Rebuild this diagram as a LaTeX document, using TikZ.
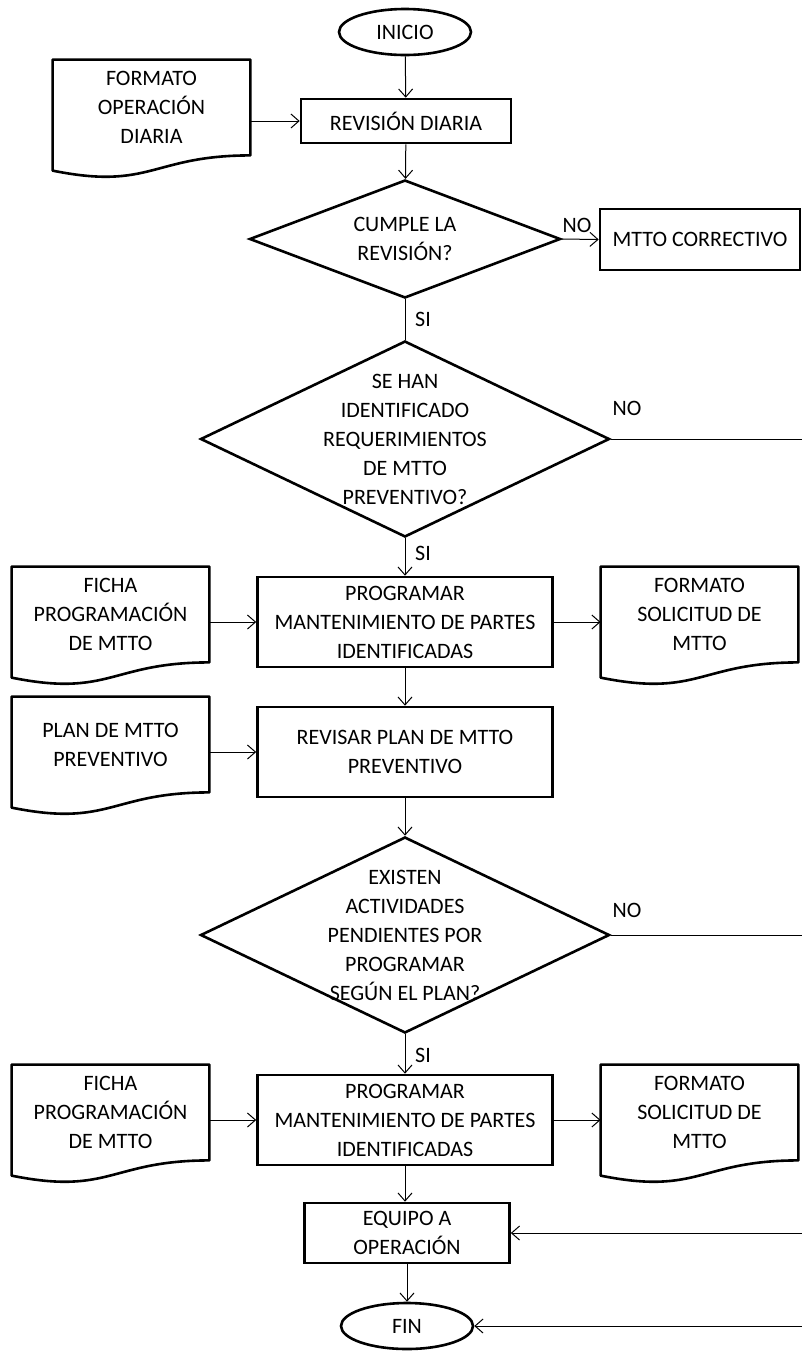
\documentclass[tikz,border=0pt]{standalone}
\usepackage{fontspec}
\setmainfont{Carlito}
\usetikzlibrary{shapes.geometric,arrows.meta}

\tikzset{
    caja/.style={draw, rectangle, line width=1.3pt, align=center, inner sep=0pt},
    terminal/.style={draw, ellipse, line width=1.3pt, minimum width=66pt, minimum height=23pt, inner sep=0pt},
    decision/.style={draw, diamond, line width=1.3pt, inner sep=0pt},
    docu/.style={rectangle, minimum width=98.5pt, minimum height=47.5pt, align=center, inner sep=0pt},
    borde/.style={line width=1.3pt, line join=round},
    flecha/.style={-{Straight Barb[length=4pt,width=7pt]}, line width=0.5pt},
    linea/.style={line width=0.5pt},
    texto/.style={align=center, inner sep=0pt},
    etiq/.style={inner sep=0pt},
}

\begin{document}
\begin{tikzpicture}[x=0.5pt, y=-0.5pt, font=\fontsize{11}{14.5}\selectfont]

    \useasboundingbox (0,0) rectangle (802,1351);
    \coordinate (margen) at (802,0);

    \node[terminal] (inicio) at (405,32) {INICIO};

    \node[docu] (formato) at (151.5,107.5)
        {FORMATO\\OPERACIÓN\\DIARIA};

    \node[caja, minimum width=105pt, minimum height=22pt] (revision) at (406,121)
        {REVISIÓN DIARIA};

    \node[decision, minimum width=155.5pt, minimum height=59pt,
          label={[texto]center:CUMPLE LA\\REVISIÓN?}] (cumple) at (405,239) {};

    \node[caja, minimum width=100pt, minimum height=30.5pt] (correctivo) at (700,239.5)
        {MTTO CORRECTIVO};

    \node[decision, minimum width=204.5pt, minimum height=98pt,
          label={[texto]center:SE HAN\\IDENTIFICADO\\REQUERIMIENTOS\\DE MTTO\\PREVENTIVO?}] (requiere) at (405,439) {};

    % programar (primera vez)
    \node[docu] (ficha1) at (110.5,614.5)
        {FICHA\\PROGRAMACIÓN\\DE MTTO};

    \node[caja, minimum width=147.5pt, minimum height=45pt] (programar1) at (405,622)
        {PROGRAMAR\\MANTENIMIENTO DE PARTES\\IDENTIFICADAS};

    \node[docu] (solicitud1) at (699.5,614.5)
        {FORMATO\\SOLICITUD DE\\MTTO};

    \node[docu] (plan) at (110.5,744.5)
        {PLAN DE MTTO\\PREVENTIVO};

    \node[caja, minimum width=147.5pt, minimum height=45pt] (revisar) at (405,752)
        {REVISAR PLAN DE MTTO\\PREVENTIVO};

    \node[decision, minimum width=204.5pt, minimum height=98pt,
          label={[texto]center:EXISTEN\\ACTIVIDADES\\PENDIENTES POR\\PROGRAMAR\\SEGÚN EL PLAN?}] (existen) at (405,935) {};

    % programar (segunda vez)
    \node[docu] (ficha2) at (110.5,1112.5)
        {FICHA\\PROGRAMACIÓN\\DE MTTO};

    \node[caja, minimum width=147.5pt, minimum height=45pt] (programar2) at (405,1120)
        {PROGRAMAR\\MANTENIMIENTO DE PARTES\\IDENTIFICADAS};

    \node[docu] (solicitud2) at (699.5,1112.5)
        {FORMATO\\SOLICITUD DE\\MTTO};

    \node[caja, minimum width=102.5pt, minimum height=30pt] (equipo) at (407,1233)
        {EQUIPO A\\OPERACIÓN};

    \node[terminal] (fin) at (407,1326) {FIN};

    % hojas de documento
    \foreach \d in {formato,ficha1,solicitud1,plan,ficha2,solicitud2}
        \draw[borde] (\d.north west) -- ++(0,111)
            .. controls +(98.5,20) and +(-98.5,0) .. (\d.south east)
            -- (\d.north east) -- cycle;

    % etiquetas
    \node[etiq] (no1) at (577,225) {NO};
    \node[etiq] (si1) at (423,319) {SI};
    \node[etiq] (no2) at (627,408) {NO};
    \node[etiq] (si2) at (423,553) {SI};
    \node[etiq] (no3) at (627,910) {NO};
    \node[etiq] (si3) at (423,1055) {SI};

    \draw[flecha] (inicio) -- (revision);
    \draw[flecha] (formato.east |- revision.west) -- (revision.west);
    \draw[flecha] (revision) -- (cumple);
    \draw[flecha] (cumple.east) -- (correctivo.west);
    \draw[linea] (cumple.south) -- (requiere.north);
    \draw[linea] (requiere.east) -- (requiere.east -| margen);
    \draw[flecha] (requiere.south) -- (programar1.north);

    \draw[flecha] (ficha1.east |- programar1.west) -- (programar1.west);
    \draw[flecha] (programar1.east) -- (solicitud1.west |- programar1.east);
    \draw[flecha] (programar1) -- (revisar);
    \draw[flecha] (plan.east |- revisar.west) -- (revisar.west);
    \draw[flecha] (revisar) -- (existen);

    \draw[linea] (existen.east) -- (existen.east -| margen);
    \draw[flecha] (existen.south) -- (programar2.north);
    \draw[flecha] (ficha2.east |- programar2.west) -- (programar2.west);
    \draw[flecha] (programar2.east) -- (solicitud2.west |- programar2.east);
    \draw[flecha] (programar2.south) -- (programar2.south |- equipo.north);
    \draw[flecha] (equipo.east -| margen) -- (equipo.east);
    \draw[flecha] (equipo) -- (fin);
    \draw[flecha] (fin.east -| margen) -- (fin.east);

\end{tikzpicture}
\end{document}
